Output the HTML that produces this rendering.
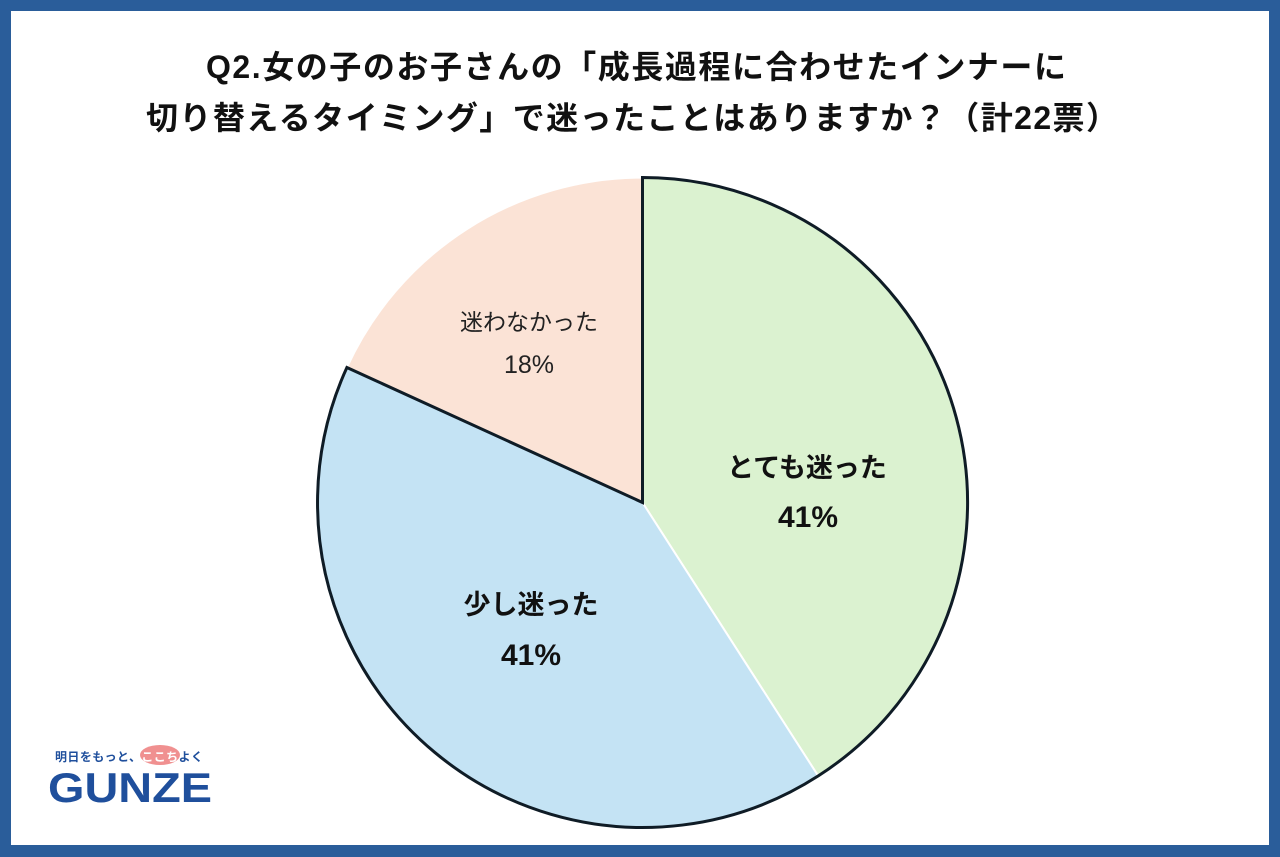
<!DOCTYPE html>
<html>
<head>
<meta charset="utf-8">
<style>
  html,body{margin:0;padding:0;background:#fff;}
  svg{display:block;}
  text{font-family:"Liberation Sans","Noto Sans CJK JP",sans-serif;}
</style>
</head>
<body>
<svg width="1280" height="857" viewBox="0 0 1280 857" xmlns="http://www.w3.org/2000/svg">
  <rect x="0" y="0" width="1280" height="857" fill="#2a5d9a"/>
  <rect x="11" y="11" width="1258" height="834" fill="#ffffff"/>

  <!-- Title -->
  <text x="206" y="78" font-size="32" font-weight="bold" fill="#111" textLength="860" lengthAdjust="spacing">Q2.女の子のお子さんの「成長過程に合わせたインナーに</text>
  <text x="146" y="129" font-size="32" font-weight="bold" fill="#111" textLength="972" lengthAdjust="spacing">切り替えるタイミング」で迷ったことはありますか？（計22票）</text>

  <!-- Pie slices -->
  <g stroke="#ffffff" stroke-width="2" stroke-linejoin="round">
    <path d="M642.5,502.5 L642.5,177.5 A325,325 0 0 1 818.2,775.9 Z" fill="#dbf2d0"/>
    <path d="M642.5,502.5 L818.2,775.9 A325,325 0 0 1 346.9,367.5 Z" fill="#c4e3f4"/>
    <path d="M642.5,502.5 L346.9,367.5 A325,325 0 0 1 642.5,177.5 Z" fill="#fbe3d6"/>
  </g>
  <!-- Dark outline -->
  <path d="M346.9,367.5 A325,325 0 1 0 642.5,177.5 L642.5,502.5 Z" fill="none" stroke="#0f1c26" stroke-width="3" stroke-linejoin="miter"/>

  <!-- Labels -->
  <text x="807" y="477" font-size="27" font-weight="bold" fill="#111" text-anchor="middle">とても迷った</text>
  <text x="808" y="527" font-size="30" font-weight="bold" fill="#111" text-anchor="middle">41%</text>

  <text x="531" y="614" font-size="27" font-weight="bold" fill="#111" text-anchor="middle">少し迷った</text>
  <text x="531" y="665" font-size="30" font-weight="bold" fill="#111" text-anchor="middle">41%</text>

  <text x="529" y="330" font-size="23" fill="#222" text-anchor="middle">迷わなかった</text>
  <text x="529" y="373" font-size="25" fill="#222" text-anchor="middle">18%</text>

  <!-- Logo -->
  <ellipse cx="160" cy="755" rx="20" ry="10" fill="#f09090"/>
  <text x="55" y="761" font-size="12" font-weight="bold" fill="#1f4f9c" textLength="148" lengthAdjust="spacing">明日をもっと、<tspan fill="#ffffff">ここち</tspan>よく</text>
  <text x="48" y="802" font-size="42" font-weight="bold" fill="#1f4f9c" textLength="164" lengthAdjust="spacingAndGlyphs">GUNZE</text>
</svg>
</body>
</html>
